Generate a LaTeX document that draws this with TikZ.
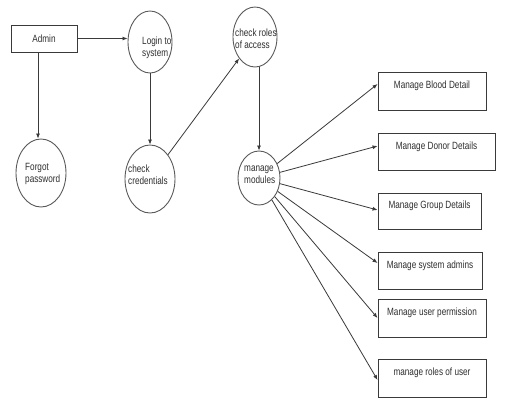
\documentclass[tikz,border=0pt]{standalone}
\usepackage{fontspec}
\setmainfont{Liberation Sans}[FakeStretch=0.78]
\usetikzlibrary{shapes.geometric,arrows.meta}
\definecolor{linec}{HTML}{3A3A3A}
\definecolor{ellc}{HTML}{5A5A5A}
\definecolor{txtc}{HTML}{303030}
\tikzset{
  arr/.style={draw=linec, line width=0.8pt, -{Latex[length=5pt,width=4pt]}},
  oval/.style={ellipse, draw=ellc, line width=0.9pt, inner sep=0pt, fill=white},
  boxn/.style={rectangle, draw=linec, line width=0.9pt, inner sep=0pt, fill=white,
    font=\fontsize{10.5}{12}\selectfont, text=txtc, text height=8pt, text depth=13pt},
  lbl/.style={inner sep=0pt, anchor=west, align=left, text=txtc,
    font=\fontsize{10.5}{12}\selectfont}
}
\begin{document}
\begin{tikzpicture}[x=1pt,y=-1pt]
\useasboundingbox[fill=white] (0,0) rectangle (505,413);
% admin box
\node[rectangle, draw=linec, line width=0.9pt, inner sep=0pt, minimum width=66pt, minimum height=27pt,
  font=\fontsize{10.5}{12}\selectfont, text=txtc] (admin) at (44,38.5) {Admin};
% ellipses
\node[oval, minimum width=44pt, minimum height=62pt] (login) at (150,42) {};
\node[oval, minimum width=44pt, minimum height=60pt] (chk) at (255,37) {};
\node[oval, minimum width=50pt, minimum height=68pt] (cred) at (150,179) {};
\node[oval, minimum width=50pt, minimum height=68pt] (forgot) at (41,173) {};
\node[oval, minimum width=42pt, minimum height=54pt] (mm) at (259,178) {};
% ellipse texts
\node[lbl] (tlogin) at (142,47.5) {Login to\\system};
\node[lbl] (tchk) at (235,39) {check roles\\of access};
\node[lbl] (tcred) at (128,174.5) {check\\credentials};
\node[lbl] (tforgot) at (25,174) {Forgot\\password};
\node[lbl] (tmm) at (244,174.5) {manage\\modules};
% boxes
\node[boxn, minimum width=108pt, minimum height=38pt] (blood) at (432,91) {Manage Blood Detail};
\node[boxn, minimum width=117pt, minimum height=37pt] (donor) at (436.5,151.5) {Manage Donor Details};
\node[boxn, minimum width=103pt, minimum height=36pt] (group) at (429.5,211) {Manage Group Details};
\node[boxn, minimum width=104pt, minimum height=37pt] (sysad) at (430,270.5) {Manage system admins};
\node[boxn, minimum width=108pt, minimum height=38pt] (perm) at (432,318) {Manage user permission};
\node[boxn, minimum width=108pt, minimum height=38pt] (roles) at (432,378) {manage roles of user};
% connectors
\draw[arr] (admin.east) -- (admin.east -| login.west);
\draw[arr] ([xshift=-6pt]admin.south) -- ([xshift=-6pt]admin.south |- forgot.north);
\draw[arr] (login.south) -- (cred.north);
\draw[arr] (cred) -- (chk);
\draw[arr] (mm.north |- chk.south) -- (mm.north);
\draw[arr] (mm) -- ([yshift=7pt]blood.west);
\draw[arr] (mm) -- ([yshift=5.5pt]donor.west);
\draw[arr] (mm) -- ([yshift=1pt]group.west);
\draw[arr] (mm) -- ([yshift=7.5pt]sysad.west);
\draw[arr] (mm) -- (perm.west);
\draw[arr] (mm) -- ([yshift=-2pt]roles.west);
\end{tikzpicture}
\end{document}
